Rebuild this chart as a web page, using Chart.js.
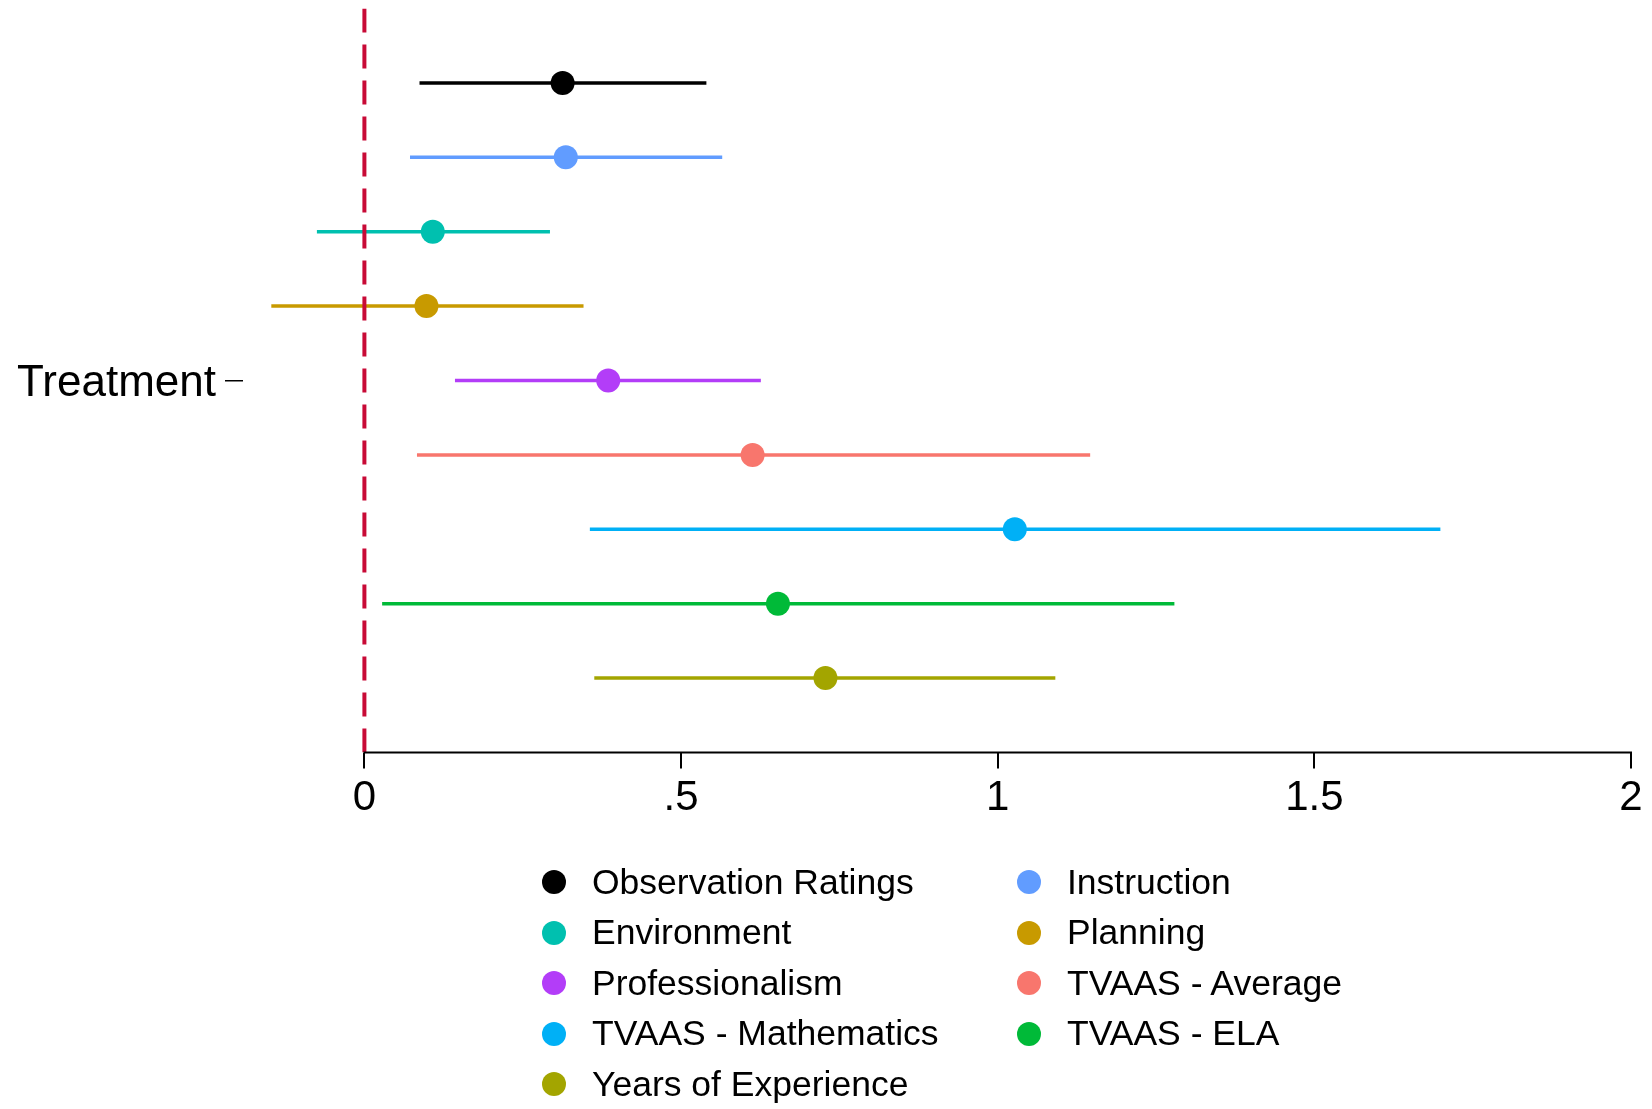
<!DOCTYPE html>
<html lang="en">
<head>
  <meta charset="UTF-8" />
  <title>Treatment effects</title>
  <script src="https://cdn.jsdelivr.net/npm/chart.js"></script>
  <style>
    body {
      margin: 0;
      background: #fff;
      font-family: "Liberation Sans", Arial, Helvetica, sans-serif;
    }
    .wrap {
      position: relative;
      width: 1652px;
      height: 1109px;
    }
    #legend {
      position: absolute;
      left: 542px;
      top: 857px;
      display: grid;
      grid-template-columns: 475px 475px;
      grid-auto-rows: 50.5px;
      font-size: 35.5px;
      color: #000;
    }
    .item {
      display: flex;
      align-items: center;
      white-space: nowrap;
    }
    .dot {
      width: 24px;
      height: 24px;
      border-radius: 50%;
      margin-right: 26px;
      flex: none;
    }
  </style>
</head>
<body>
  <div class="wrap">
    <canvas id="coefChart" width="1652" height="1109"></canvas>
    <div id="legend"></div>
  </div>

  <script>
    // outcomes, in plotting order (top to bottom)
    const outcomes = [
      "Observation Ratings", "Instruction", "Environment", "Planning",
      "Professionalism", "TVAAS - Average", "TVAAS - Mathematics",
      "TVAAS - ELA", "Years of Experience"
    ];
    const estimates = [0.313, 0.318, 0.108, 0.098, 0.385, 0.613, 1.027, 0.653, 0.728];
    const ciLower   = [0.087, 0.072, -0.075, -0.147, 0.143, 0.083, 0.356, 0.028, 0.363];
    const ciUpper   = [0.540, 0.565, 0.293, 0.346, 0.626, 1.146, 1.699, 1.279, 1.091];
    const colors = [
      "#000000", "#619CFF", "#00C0AF", "#C89A00", "#B33DF8",
      "#F8766D", "#00B0F6", "#00BA38", "#A3A500"
    ];
    const xTickValues = [0, 0.5, 1, 1.5, 2];
    const xTickLabels = ["0", ".5", "1", "1.5", "2"];
    const yTickLabel = "Treatment";

    const fontFamily = "'Liberation Sans', Arial, Helvetica, sans-serif";

    const datasets = [{
      // reference line at zero
      data: [{ x: 0, y: 0 }, { x: 0, y: 10 }],
      showLine: true,
      borderColor: "#C80A36",
      borderWidth: 4,
      borderDash: [24, 12],
      pointRadius: 0,
      order: -1
    }];
    outcomes.forEach((name, i) => {
      datasets.push({
        label: name,
        data: [
          { x: ciLower[i], y: i + 1 },
          { x: estimates[i], y: i + 1 },
          { x: ciUpper[i], y: i + 1 }
        ],
        showLine: true,
        borderColor: colors[i],
        borderWidth: 3.5,
        pointRadius: [0, 12, 0],
        pointBackgroundColor: colors[i],
        pointBorderWidth: 0,
        order: 0
      });
    });

    // axis line only spans 0..2
    const axisLine = {
      id: "axisLine",
      afterDraw(chart) {
        const { ctx, chartArea, scales } = chart;
        ctx.save();
        ctx.strokeStyle = "#000";
        ctx.lineWidth = 2;
        ctx.beginPath();
        ctx.moveTo(scales.x.getPixelForValue(xTickValues[0]) - 1, chartArea.bottom);
        ctx.lineTo(scales.x.getPixelForValue(xTickValues[xTickValues.length - 1]) + 1, chartArea.bottom);
        ctx.stroke();
        ctx.restore();
      }
    };

    new Chart(document.getElementById("coefChart"), {
      type: "scatter",
      data: { datasets },
      plugins: [axisLine],
      options: {
        responsive: false,
        animation: false,
        devicePixelRatio: 1,
        layout: { padding: { top: 8.5, right: 21, bottom: 296.5, left: 0 } },
        plugins: {
          legend: { display: false },
          tooltip: { enabled: false }
        },
        scales: {
          x: {
            type: "linear",
            min: -0.1917,
            max: 2,
            afterBuildTicks: (s) => { s.ticks = xTickValues.map(v => ({ value: v })); },
            afterFit: (s) => { s.height = 60; },
            ticks: {
              callback: (v, i) => xTickLabels[i],
              font: { family: fontFamily, size: 42 },
              color: "#000",
              padding: 5,
              maxRotation: 0,
              autoSkip: false
            },
            grid: { drawOnChartArea: false, tickLength: 16, color: "#000", lineWidth: 2 },
            border: { display: false }
          },
          y: {
            type: "linear",
            min: 0,
            max: 10,
            reverse: true,
            afterBuildTicks: (s) => { s.ticks = [{ value: 5 }]; },
            afterFit: (s) => {
              s.width = 243;
              s.paddingTop = 0;
              s.paddingBottom = 0;
            },
            ticks: {
              callback: () => yTickLabel,
              font: { family: fontFamily, size: 44 },
              color: "#000",
              padding: 9,
              labelOffset: 3
            },
            grid: { drawOnChartArea: false, tickLength: 18, color: "#000", lineWidth: 1.5 },
            border: { display: false }
          }
        }
      }
    });

    const legend = document.getElementById("legend");
    outcomes.forEach((name, i) => {
      const item = document.createElement("div");
      item.className = "item";
      const dot = document.createElement("span");
      dot.className = "dot";
      dot.style.background = colors[i];
      item.appendChild(dot);
      item.appendChild(document.createTextNode(name));
      legend.appendChild(item);
    });
  </script>
</body>
</html>
